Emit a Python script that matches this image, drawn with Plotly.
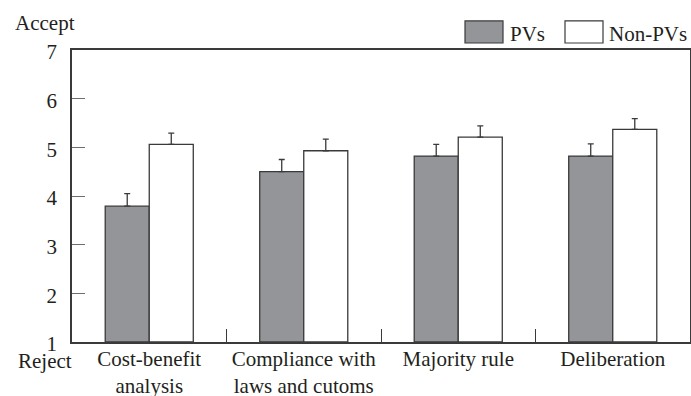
import plotly.graph_objects as go

categories = ["Cost-benefit<br>analysis", "Compliance with<br>laws and cutoms", "Majority rule", "Deliberation"]
pvs = [3.79, 4.50, 4.82, 4.82]
pvs_err = [0.26, 0.25, 0.24, 0.25]
nonpvs = [5.06, 4.93, 5.21, 5.37]
nonpvs_err = [0.23, 0.24, 0.23, 0.22]
y_ticks = [1, 2, 3, 4, 5, 6, 7]

FONT = "Liberation Serif"
EDGE = "#3a3a3a"
TXT = "#231f20"
FS = 21

fig = go.Figure()
fig.add_trace(go.Bar(
    x=categories, y=[v - 1 for v in pvs], base=1, name="PVs",
    marker=dict(color="#939598", line=dict(color=EDGE, width=1.3)),
    error_y=dict(type="data", symmetric=False, array=pvs_err, arrayminus=[0]*4,
                 color=EDGE, thickness=1.3, width=3),
))
fig.add_trace(go.Bar(
    x=categories, y=[v - 1 for v in nonpvs], base=1, name="Non-PVs",
    marker=dict(color="white", line=dict(color=EDGE, width=1.3)),
    error_y=dict(type="data", symmetric=False, array=nonpvs_err, arrayminus=[0]*4,
                 color=EDGE, thickness=1.3, width=3),
))

fig.update_layout(
    width=691, height=396,
    margin=dict(l=72, r=1, t=50, b=54, autoexpand=False),
    paper_bgcolor="white", plot_bgcolor="white",
    barmode="group", bargap=0.43, bargroupgap=0,
    showlegend=False,
    font=dict(family=FONT, size=FS, color=TXT),
    xaxis=dict(
        range=[-0.5, 3.5], showgrid=False, showline=True, linecolor=EDGE, linewidth=1.5,
        mirror=True, ticks="inside", tickson="boundaries", ticklen=13, tickcolor=EDGE,
        tickwidth=1.3, tickfont=dict(family=FONT, size=FS, color=TXT),
        ticklabelstandoff=-3, automargin=False,
    ),
    yaxis=dict(
        range=[1, 7], tickvals=y_ticks, showgrid=False, zeroline=False, showline=True,
        linecolor=EDGE, linewidth=1.5, mirror=True, ticks="inside", ticklen=13,
        tickcolor="#6d6e71", tickwidth=1.3,
        tickfont=dict(family=FONT, size=FS, color=TXT), ticklabelstandoff=9,
        ticklabelshift=2, automargin=False,
    ),
)

# axis end labels
fig.add_annotation(text="Accept", xref="paper", yref="paper", x=(13-72)/618, y=1.0, yshift=27,
                   xanchor="left", yanchor="middle", showarrow=False,
                   font=dict(family=FONT, size=FS, color=TXT))
fig.add_annotation(text="Reject", xref="paper", yref="paper", x=(16-72)/618, y=0, yshift=-19,
                   xanchor="left", yanchor="middle", showarrow=False,
                   font=dict(family=FONT, size=FS, color=TXT))

# legend
fig.add_shape(type="rect", xref="paper", yref="paper", x0=(465-72)/618, x1=(503-72)/618,
              y0=1 + 7/291, y1=1 + 29/291, fillcolor="#939598", line=dict(color=EDGE, width=1.2))
fig.add_annotation(text="PVs", xref="paper", yref="paper", x=(508-72)/618, y=1 + 16/291,
                   xanchor="left", yanchor="middle", showarrow=False,
                   font=dict(family=FONT, size=FS, color=TXT))
fig.add_shape(type="rect", xref="paper", yref="paper", x0=(565-72)/618, x1=(603-72)/618,
              y0=1 + 7/291, y1=1 + 29/291, fillcolor="white", line=dict(color=EDGE, width=1.2))
fig.add_annotation(text="Non-PVs", xref="paper", yref="paper", x=(607-72)/618, y=1 + 16/291,
                   xanchor="left", yanchor="middle", showarrow=False,
                   font=dict(family=FONT, size=FS, color=TXT))

fig.write_html("out.html", config={"displayModeBar": False},
               post_script="document.body.style.margin='0px';")
